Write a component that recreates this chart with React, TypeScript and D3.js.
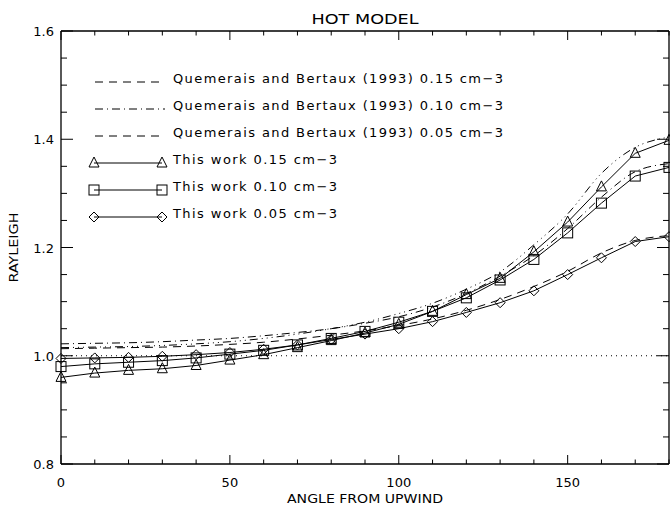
import React from "react";
import * as d3 from "d3";

const angles = [0, 10, 20, 30, 40, 50, 60, 70, 80, 90, 100, 110, 120, 130, 140, 150, 160, 170, 180];
const work015 = [0.960, 0.968, 0.973, 0.976, 0.982, 0.992, 1.002, 1.015, 1.028, 1.042, 1.058, 1.082, 1.113, 1.143, 1.192, 1.247, 1.312, 1.374, 1.398];
const work010 = [0.980, 0.985, 0.988, 0.991, 0.996, 1.003, 1.010, 1.020, 1.032, 1.045, 1.062, 1.082, 1.107, 1.140, 1.178, 1.227, 1.282, 1.332, 1.348];
const work005 = [0.995, 0.996, 0.997, 0.999, 1.002, 1.006, 1.012, 1.020, 1.030, 1.040, 1.050, 1.063, 1.080, 1.098, 1.120, 1.150, 1.181, 1.211, 1.220];
const qb015 = [1.015, 1.016, 1.017, 1.019, 1.022, 1.026, 1.032, 1.040, 1.050, 1.062, 1.078, 1.097, 1.123, 1.155, 1.205, 1.262, 1.337, 1.385, 1.404];
const qb010 = [1.022, 1.023, 1.024, 1.026, 1.029, 1.032, 1.037, 1.043, 1.050, 1.060, 1.072, 1.090, 1.115, 1.147, 1.185, 1.235, 1.293, 1.340, 1.355];
const qb005 = [1.013, 1.014, 1.015, 1.016, 1.018, 1.021, 1.025, 1.031, 1.038, 1.046, 1.056, 1.068, 1.084, 1.104, 1.128, 1.156, 1.190, 1.213, 1.222];
const xTicks = [0, 50, 100, 150];
const yTicks = [0.8, 1.0, 1.2, 1.4, 1.6];
const legendLabels = [
  "Quemerais and Bertaux (1993) 0.15 cm\u22123",
  "Quemerais and Bertaux (1993) 0.10 cm\u22123",
  "Quemerais and Bertaux (1993) 0.05 cm\u22123",
  "This work 0.15 cm\u22123",
  "This work 0.10 cm\u22123",
  "This work 0.05 cm\u22123",
];

const L = 61, R = 669, T = 31, B = 464;
const FONT = "'DejaVu Sans', sans-serif";

function Marker({ kind, x, y }: { kind: string; x: number; y: number }) {
  if (kind === "tri") {
    const p = `M${x},${y - 6} L${x + 5},${y + 4} L${x - 5},${y + 4} Z`;
    return <path d={p} fill="none" stroke="#000" strokeWidth={1} />;
  }
  if (kind === "sq") {
    return <rect x={x - 5} y={y - 5} width={10} height={10} fill="none" stroke="#000" strokeWidth={1} />;
  }
  const p = `M${x},${y - 5} L${x + 5},${y} L${x},${y + 5} L${x - 5},${y} Z`;
  return <path d={p} fill="none" stroke="#000" strokeWidth={1} />;
}

export default function App() {
  const x = d3.scaleLinear().domain([0, 180]).range([L, R]);
  const y = d3.scaleLinear().domain([0.8, 1.6]).range([B, T]);
  const line = d3
    .line<number>()
    .x((_, i) => x(angles[i]))
    .y((d) => y(d))
    .curve(d3.curveMonotoneX);
  const lineLin = d3
    .line<number>()
    .x((_, i) => x(angles[i]))
    .y((d) => y(d));

  const dashStyles = ["8,6", "8,4,1,4", "8,6"];
  const qb = [qb015, qb010, qb005];
  const qbStyles = ["8,4,1,4,1,4,1,4", "8,4,1,4", "8,6"];
  const work = [work015, work010, work005];
  const kinds = ["tri", "sq", "dia"];

  const xMinor = d3.range(0, 181, 10);
  const yMinor = d3.range(0.8, 1.6001, 0.05);

  return (
    <svg width={670} height={510} style={{ display: "block", position: "absolute", left: 0, top: 0 }}>
      <rect x={0} y={0} width={670} height={510} fill="#fff" />
      <text x={365} y={24} textAnchor="middle" fontFamily={FONT} fontSize={14} textLength={107} lengthAdjust="spacingAndGlyphs">HOT MODEL</text>
      <path d={`M${L},${T} L${R},${T} M${L},${B} L${R},${B} M${L},${T} L${L},${B} M${R},${T} L${R},${B}`} stroke="#000" strokeWidth={1.3} fill="none" />
      {xMinor.map((v) => {
        const major = v % 50 === 0;
        const len = major ? 9 : 4.5;
        return (
          <g key={"xt" + v}>
            <line x1={x(v)} x2={x(v)} y1={B} y2={B - len} stroke="#000" />
            <line x1={x(v)} x2={x(v)} y1={T} y2={T + len} stroke="#000" />
          </g>
        );
      })}
      {yMinor.map((v, i) => {
        const major = i % 4 === 0;
        const len = major ? 12 : 6;
        return (
          <g key={"yt" + i}>
            <line x1={L} x2={L + len} y1={y(v)} y2={y(v)} stroke="#000" />
            <line x1={R} x2={R - len} y1={y(v)} y2={y(v)} stroke="#000" />
          </g>
        );
      })}
      {xTicks.map((v) => (
        <text key={"xl" + v} x={x(v)} y={487} textAnchor="middle" fontFamily={FONT} fontSize={13}>{v}</text>
      ))}
      {yTicks.map((v) => (
        <text key={"yl" + v} x={54} y={y(v) + 5} textAnchor="end" fontFamily={FONT} fontSize={13}>{v.toFixed(1)}</text>
      ))}
      <text x={365} y={503} textAnchor="middle" fontFamily={FONT} fontSize={13} textLength={156} lengthAdjust="spacingAndGlyphs">ANGLE FROM UPWIND</text>
      <text transform={`translate(18,${(T + B) / 2}) rotate(-90)`} textAnchor="middle" fontFamily={FONT} fontSize={13} textLength={70} lengthAdjust="spacingAndGlyphs">RAYLEIGH</text>

      <line x1={L} x2={R} y1={y(1.0)} y2={y(1.0)} stroke="#000" strokeDasharray="1,4" />

      {qb.map((s, k) => (
        <path key={"qb" + k} d={line(s) || ""} fill="none" stroke="#000" strokeWidth={1} strokeDasharray={qbStyles[k]} />
      ))}
      {work.map((s, k) => (
        <g key={"w" + k}>
          <path d={lineLin(s) || ""} fill="none" stroke="#000" strokeWidth={1} />
          {s.map((v, i) => (
            <Marker key={i} kind={kinds[k]} x={x(angles[i])} y={y(v)} />
          ))}
        </g>
      ))}

      {legendLabels.map((lab, i) => {
        const ly = 82 + i * 27;
        return (
          <g key={"lg" + i}>
            {i < 3 ? (
              <line x1={95} x2={165} y1={ly} y2={ly} stroke="#000" strokeDasharray={dashStyles[i]} />
            ) : (
              <g>
                <line x1={94} x2={162} y1={ly} y2={ly} stroke="#000" />
                <Marker kind={kinds[i - 3]} x={94} y={ly} />
                <Marker kind={kinds[i - 3]} x={162} y={ly} />
              </g>
            )}
            <text x={173} y={ly + 1} fontFamily={FONT} fontSize={13} textLength={i < 3 ? 330 : 164} lengthAdjust="spacing">{lab}</text>
          </g>
        );
      })}
    </svg>
  );
}
